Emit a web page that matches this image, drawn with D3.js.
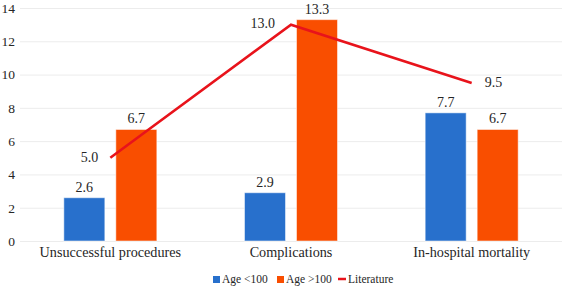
<!DOCTYPE html>
<html>
<head>
<meta charset="utf-8">
<script src="https://cdn.jsdelivr.net/npm/d3@7"></script>
</head>
<body style="margin:0;background:#fff">
<svg width="562" height="288"></svg>
<script>
const categories = ["Unsuccessful procedures", "Complications", "In-hospital mortality"];
const seriesNames = ["Age <100", "Age >100"];
const young = [2.6, 2.9, 7.7];
const old = [6.7, 13.3, 6.7];
const literature = [5.0, 13.0, 9.5];
const yTicks = [0, 2, 4, 6, 8, 10, 12, 14];

const colors = ["#2870cc", "#f94e00"];
const lineColor = "#e8131b";
const serif = "'Liberation Serif', 'Times New Roman', serif";

const svg = d3.select("svg");
const margin = { top: 8, right: 0, bottom: 47, left: 20 };
const width = +svg.attr("width") - margin.left - margin.right;
const height = +svg.attr("height") - margin.top - margin.bottom;
const g = svg.append("g").attr("transform", `translate(${margin.left},${margin.top})`);

const x = d3.scaleBand().domain(categories).range([0, width]);
const y = d3.scaleLinear().domain([0, 14]).range([height, 0]);
const barW = 41, gap = 11;

// grid
g.append("g")
    .attr("class", "grid")
    .call(d3.axisLeft(y).tickValues(yTicks).tickSize(-width).tickFormat(""))
    .call(a => a.select(".domain").remove())
    .call(a => a.selectAll("line").attr("stroke", "#ececec"));

// y labels
g.append("g")
    .call(d3.axisLeft(y).tickValues(yTicks).tickSize(0).tickPadding(5))
    .call(a => a.select(".domain").remove())
    .call(a => a.selectAll("text").style("font-size", "13.5px"));

// x labels
g.append("g")
    .attr("transform", `translate(0,${height})`)
    .call(d3.axisBottom(x).tickSize(0).tickPadding(6))
    .call(a => a.select(".domain").remove())
    .call(a => a.selectAll("text").style("font-size", "14.2px"));

const series = [young, old];
series.forEach((vals, s) => {
    const off = s === 0 ? -gap / 2 - barW : gap / 2;
    g.selectAll(".bar" + s)
        .data(vals)
        .enter().append("rect")
        .attr("x", (d, i) => x(categories[i]) + x.bandwidth() / 2 + off)
        .attr("y", d => y(d))
        .attr("width", barW)
        .attr("height", d => height - y(d))
        .attr("fill", colors[s])
        .attr("stroke", "#fff")
        .attr("stroke-opacity", 0.5)
        .attr("stroke-width", 1);
    g.selectAll(".lab" + s)
        .data(vals)
        .enter().append("text")
        .attr("x", (d, i) => x(categories[i]) + x.bandwidth() / 2 + off + barW / 2)
        .attr("y", d => y(d) - 6)
        .attr("text-anchor", "middle")
        .style("font-size", "14px")
        .text(d => d.toFixed(1));
});

// literature line
const line = d3.line()
    .x((d, i) => x(categories[i]) + x.bandwidth() / 2)
    .y(d => y(d));
g.append("path")
    .datum(literature)
    .attr("fill", "none")
    .attr("stroke", lineColor)
    .attr("stroke-width", 2.6)
    .attr("d", line);

const litAnchor = ["end", "end", "start"];
const litDx = [-12, -16, 13];
const litDy = [4, 3, 4];
g.selectAll(".litlab")
    .data(literature)
    .enter().append("text")
    .attr("x", (d, i) => x(categories[i]) + x.bandwidth() / 2 + litDx[i])
    .attr("y", (d, i) => y(d) + litDy[i])
    .attr("text-anchor", (d, i) => litAnchor[i])
    .style("font-size", "14px")
    .text(d => d.toFixed(1));

// legend
const legend = svg.append("g").attr("transform", "translate(213,283)");
const items = [
    { name: seriesNames[0], color: colors[0], type: "rect", x: 0 },
    { name: seriesNames[1], color: colors[1], type: "rect", x: 64 },
    { name: "Literature", color: lineColor, type: "line", x: 125 }
];
items.forEach(it => {
    const ig = legend.append("g").attr("transform", `translate(${it.x},0)`);
    if (it.type === "rect") {
        ig.append("rect").attr("x", 0).attr("y", -7).attr("width", 7).attr("height", 7).attr("fill", it.color);
    } else {
        ig.append("line").attr("x1", 0).attr("x2", 8).attr("y1", -4).attr("y2", -4)
            .attr("stroke", it.color).attr("stroke-width", 2.5);
    }
    ig.append("text")
        .attr("x", it.type === "rect" ? 9 : 10)
        .attr("y", 0)
        .style("font-size", "11.5px")
        .text(it.name);
});

svg.selectAll("text")
    .style("font-family", serif)
    .style("fill", "#262626");
</script>
</body>
</html>
